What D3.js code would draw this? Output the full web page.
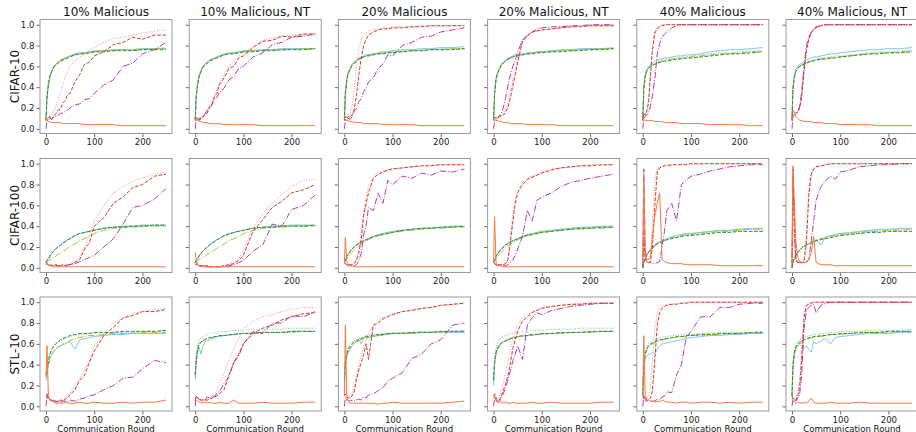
<!DOCTYPE html>
<html>
<head>
<meta charset="utf-8">
<script src="https://cdn.jsdelivr.net/npm/d3@7"></script>
<style>
  body { margin: 0; background: #fff; }
  text { font-family: "DejaVu Sans", sans-serif; }
</style>
</head>
<body>
<svg id="chart" width="916" height="432"></svg>
<script>
var rounds = [0, 2, 5, 8, 12, 16, 20, 25, 30, 35, 40, 45, 50, 60, 70, 80, 90, 100, 120, 140, 160, 180, 200, 225, 249];

var datasets = ["CIFAR-10", "CIFAR-100", "STL-10"];
var settings = ["10% Malicious", "10% Malicious, NT", "20% Malicious", "20% Malicious, NT", "40% Malicious", "40% Malicious, NT"];

// series order in every panel: orange, red, pink, magenta, blue, green, olive, teal
var c10_m10 = [
  [10,8,7,7,6,6,6,6,6,5,5,5,5,5,5,4,4,4,4,4,3,3,3,3,3],
  [10,8,10,12,9,13,14,18,19,25,27,33,34,45,52,62,64,70,74,81,83,88,86,90,90],
  [10,9,11,13,14,17,21,28,35,42,50,55,60,65,69,72,76,78,83,87,88,90,92,94,95],
  [0,8,9,10,9,11,12,13,15,15,17,18,20,23,24,28,29,34,42,47,60,63,72,76,83],
  [10,32,44,51,56,60,62,64,66,67,68,69,70,72,73,73,74,75,75,76,76,76,77,77,77],
  [8,30,42,50,55,59,61,63,65,66,67,68,69,71,72,72,73,74,74,75,75,75,76,76,76],
  [8,29,42,50,55,59,62,64,66,67,68,69,70,71,72,73,73,74,75,75,76,76,76,77,77],
  [10,31,43,51,56,60,62,64,66,67,68,69,70,72,72,73,74,74,75,76,76,76,77,77,78]
];
var c10_m10nt = [
  [10,9,8,7,7,6,6,6,5,5,5,5,5,4,4,4,4,4,4,3,3,3,3,3,3],
  [10,11,9,10,9,11,14,15,21,24,31,34,42,49,58,60,68,70,78,84,85,89,88,91,91],
  [10,10,10,11,11,12,14,18,23,27,32,38,43,52,60,65,70,73,79,85,87,89,90,91,92],
  [0,9,10,8,11,12,14,18,20,23,29,30,35,39,47,50,58,60,69,73,81,83,88,89,91],
  [10,32,44,51,56,60,62,64,66,67,68,69,70,72,73,73,74,75,75,76,76,77,77,77,77],
  [8,30,42,50,55,59,61,63,65,66,67,68,69,71,72,72,73,74,74,75,75,76,76,76,77],
  [8,30,43,50,55,59,62,64,66,67,68,69,70,71,72,73,73,74,75,75,76,76,76,77,77],
  [10,31,43,51,56,60,62,64,66,67,68,69,70,72,72,73,74,74,75,76,76,76,77,77,77]
];
var c10_m20 = [
  [10,9,8,8,7,7,6,6,6,6,5,5,5,5,5,4,4,4,4,4,3,3,3,3,3],
  [10,12,10,12,11,14,18,32,52,68,80,86,90,93,95,96,96,97,97,98,98,99,99,99,99],
  [10,11,12,14,16,22,38,62,78,86,90,92,94,95,96,97,97,98,98,98,99,99,99,99,99],
  [0,8,9,10,9,12,17,19,26,29,36,39,45,49,58,62,71,70,80,83,88,89,93,95,97],
  [10,35,48,54,58,62,64,66,68,69,70,71,71,72,73,74,74,75,76,76,77,77,78,78,79],
  [8,33,47,53,57,61,63,65,67,68,69,70,70,71,72,72,73,73,74,75,75,76,76,76,77],
  [8,34,47,54,58,61,63,65,67,68,69,70,71,71,72,73,73,74,74,75,75,76,76,77,77],
  [10,34,48,54,58,62,64,65,67,68,69,70,71,72,72,73,74,74,75,75,76,76,77,77,77]
];
var c10_m20nt = [
  [10,9,8,8,7,7,6,6,6,5,5,5,5,5,4,4,4,4,4,3,3,3,3,3,3],
  [10,11,10,11,12,12,13,16,21,30,42,52,64,84,89,93,94,95,96,97,98,98,99,99,99],
  [10,11,11,12,12,13,15,20,26,36,48,58,68,86,90,93,94,95,96,97,98,99,99,99,99],
  [0,8,9,10,12,15,20,30,42,52,60,66,74,85,90,93,96,97,98,98,99,99,100,100,100],
  [10,35,48,54,58,62,64,66,68,69,70,71,71,72,73,73,74,74,75,76,76,77,77,77,78],
  [8,33,47,53,57,61,63,65,67,68,69,70,70,71,72,72,73,73,74,74,75,75,76,76,77],
  [8,34,47,54,58,61,63,65,67,68,69,70,71,71,72,73,73,74,74,75,75,76,76,77,77],
  [10,34,48,54,58,62,64,65,67,68,69,70,71,72,72,73,74,74,75,75,76,76,77,77,77]
];
var c10_m40 = [
  [10,9,8,8,8,8,8,7,7,7,7,6,6,6,6,5,5,5,5,4,4,4,4,3,3],
  [10,15,13,16,25,52,75,92,96,98,99,100,100,100,100,100,100,100,100,100,100,100,100,100,100],
  [10,14,14,18,30,58,80,94,97,99,100,100,100,100,100,100,100,100,100,100,100,100,100,100,100],
  [0,10,12,13,15,22,32,48,72,82,88,91,93,97,99,100,100,100,100,100,100,100,100,100,100],
  [10,40,52,57,60,62,63,65,66,67,67,68,68,69,70,70,71,71,72,74,75,76,76,77,78],
  [8,38,50,55,58,60,61,62,63,64,64,65,65,66,67,67,68,68,69,70,71,72,72,73,74],
  [8,38,50,55,58,60,61,62,63,64,65,65,66,67,67,68,68,69,70,71,72,72,73,74,74],
  [10,39,51,56,59,61,62,63,64,65,66,66,67,67,68,69,69,70,71,72,73,73,74,75,75]
];
var c10_m40nt = [
  [10,12,14,12,10,8,8,7,7,7,7,6,6,6,5,5,5,4,4,4,4,3,3,3,3],
  [10,18,16,15,16,20,30,55,75,86,92,95,97,99,100,100,100,100,100,100,100,100,100,100,100],
  [10,16,15,15,17,22,33,58,78,88,93,96,98,100,100,100,100,100,100,100,100,100,100,100,100],
  [0,12,14,14,16,22,35,60,80,88,93,96,98,99,100,100,100,100,100,100,100,100,100,100,100],
  [10,40,52,57,60,62,63,65,66,67,68,69,69,70,71,72,72,73,74,75,76,76,77,77,78],
  [8,38,50,55,58,60,61,62,63,64,65,65,66,67,67,68,68,69,70,71,72,72,73,73,74],
  [8,38,50,55,58,60,61,62,63,64,65,66,66,67,68,68,69,69,70,71,72,73,73,74,75],
  [10,39,51,56,59,61,62,63,64,65,66,66,67,68,68,69,70,70,71,72,73,74,74,75,75]
];

var c100_m10 = [
  [7,5,3,2,2,1,1,1,1,1,1,1,1,1,1,1,1,1,1,1,1,1,1,1,1],
  [6,4,3,3,2,2,3,2,2,3,2,2,3,5,8,18,24,40,48,62,68,77,80,88,90],
  [5,4,3,3,3,2,2,2,2,2,2,3,3,6,11,20,32,45,60,72,78,83,86,90,92],
  [3,4,3,2,3,2,3,2,2,3,2,3,3,4,6,8,10,12,20,28,42,58,60,66,76],
  [5,7,9,11,14,16,18,20,22,24,25,27,28,31,33,34,35,36,38,39,40,40,41,41,41],
  [5,7,9,11,14,16,18,20,22,24,25,27,28,31,33,34,35,36,38,39,39,40,40,41,41],
  [5,6,7,8,9,10,11,13,14,16,17,19,20,23,26,28,30,33,36,38,39,39,40,40,40],
  [5,7,9,12,14,16,18,20,22,24,26,27,28,31,33,34,35,36,38,39,40,40,41,41,41]
];
var c100_m10nt = [
  [15,8,3,2,1,1,1,1,1,1,1,1,1,1,1,1,1,1,1,1,1,1,1,1,1],
  [5,4,3,2,2,2,2,2,1,1,1,1,1,2,3,4,7,12,35,46,58,64,72,75,80],
  [5,4,3,2,2,2,2,2,1,1,1,1,1,2,3,5,9,16,38,52,62,70,78,84,85],
  [3,3,3,2,2,2,2,1,1,1,1,1,1,1,2,3,5,7,16,22,42,40,56,60,70],
  [5,7,9,11,14,16,18,20,22,24,25,27,28,31,33,34,35,36,38,39,40,40,41,41,41],
  [5,7,9,11,14,16,18,20,22,24,25,27,28,31,32,34,35,36,38,39,39,40,40,40,41],
  [5,6,7,8,9,10,11,13,14,16,17,19,20,23,26,28,30,33,36,38,39,39,40,40,40],
  [5,7,9,12,14,16,18,20,22,24,26,27,28,31,33,34,35,36,38,39,40,40,41,41,41]
];
var c100_m20 = [
  [5,29,6,3,2,2,1,1,1,1,1,1,1,1,1,1,1,1,1,1,1,1,1,1,1],
  [5,4,3,3,3,3,4,7,14,28,50,62,72,86,90,92,94,95,96,97,98,98,99,99,99],
  [5,4,3,3,3,3,5,9,18,35,55,68,78,88,91,93,94,95,96,97,98,99,99,99,99],
  [5,4,3,2,2,2,2,3,7,14,32,40,58,55,72,62,84,80,88,86,91,89,93,92,95],
  [5,8,11,13,16,18,20,22,24,25,26,27,28,30,32,33,34,35,36,37,38,38,39,40,40],
  [5,8,11,13,16,18,20,22,23,25,26,27,28,30,31,32,33,34,36,37,38,38,39,39,40],
  [5,7,9,11,13,15,17,19,21,23,24,26,27,29,31,32,33,34,35,36,37,38,38,39,39],
  [5,8,11,13,16,18,20,22,24,25,26,27,28,30,32,33,34,35,36,37,38,39,39,40,40]
];
var c100_m20nt = [
  [5,49,5,3,2,2,1,1,1,1,1,1,1,1,1,1,1,1,1,1,1,1,1,1,1],
  [5,4,3,3,3,3,3,4,8,25,45,62,72,80,85,87,89,91,94,96,97,98,98,99,99],
  [5,4,3,3,3,3,3,5,10,30,52,66,75,82,86,88,90,92,95,96,97,98,99,99,99],
  [5,4,3,2,2,2,2,2,3,5,8,12,18,30,55,45,65,68,72,78,82,84,86,88,90],
  [5,8,11,13,16,18,20,22,24,25,26,27,28,30,32,33,34,35,36,37,38,39,39,40,40],
  [5,8,11,13,16,18,20,22,23,25,26,27,28,30,31,32,33,34,35,36,37,38,38,39,39],
  [5,7,9,11,13,15,17,19,21,23,24,26,27,29,31,32,33,34,35,36,37,37,38,38,39],
  [5,8,11,13,16,18,20,22,24,25,26,27,28,30,32,33,34,35,36,37,38,38,39,39,40]
];
var c100_m40 = [
  [5,90,10,8,8,10,30,50,62,72,8,6,5,4,4,4,3,3,3,3,2,2,2,2,2],
  [5,30,8,6,5,6,20,60,92,96,97,98,98,99,99,99,99,100,100,100,100,100,100,100,100],
  [5,50,12,8,8,15,45,85,95,97,98,98,99,99,99,100,100,100,100,100,100,100,100,100,100],
  [0,95,20,6,5,5,4,4,5,6,20,35,55,62,45,80,84,88,90,93,95,97,98,99,99],
  [0,5,9,12,15,18,20,22,24,25,26,27,28,30,31,32,33,33,34,35,36,36,37,38,38],
  [0,5,9,12,15,17,19,21,23,24,25,26,27,28,29,30,31,31,32,33,34,34,35,35,35],
  [0,5,9,12,15,17,19,21,23,24,25,26,27,29,30,31,32,32,33,34,35,35,36,37,37],
  [0,5,9,12,15,18,20,22,24,25,26,27,28,29,30,31,32,33,34,35,36,36,37,37,37]
];
var c100_m40nt = [
  [5,98,60,25,10,6,5,5,5,8,15,30,5,3,3,3,2,2,2,2,2,2,2,2,2],
  [5,85,30,8,5,5,5,6,25,70,90,95,97,98,99,100,100,100,100,100,100,100,100,100,100],
  [5,90,40,10,6,6,6,8,35,78,92,96,97,98,99,100,100,100,100,100,100,100,100,100,100],
  [0,95,50,10,5,5,5,5,6,8,26,45,65,78,84,88,85,92,94,97,98,99,99,100,100],
  [0,5,9,12,15,17,19,21,22,23,24,25,27,22,30,31,32,33,34,35,36,37,37,38,38],
  [0,5,9,12,15,17,19,21,22,23,24,25,26,27,28,29,30,31,32,33,34,34,35,35,35],
  [0,5,9,12,15,17,19,21,22,23,24,25,26,28,29,30,31,32,33,34,35,35,36,36,37],
  [0,5,9,12,15,17,19,21,22,23,24,25,27,28,29,30,31,32,33,34,35,36,36,37,37]
];

var stl_m10 = [
  [28,58,10,6,5,4,3,3,3,3,4,3,3,3,4,3,3,4,3,3,4,3,4,4,6],
  [10,9,7,6,6,5,5,4,6,5,7,8,11,16,25,30,42,53,68,76,85,87,91,91,93],
  [10,9,7,6,6,5,5,5,6,7,8,10,13,19,27,35,44,58,70,80,85,89,91,93,94],
  [0,12,8,7,5,6,4,5,4,5,5,4,6,5,7,8,10,11,16,20,27,28,36,44,42],
  [25,30,40,45,50,53,55,57,58,59,60,61,62,55,64,65,66,67,68,69,69,70,70,70,70],
  [30,33,45,50,55,58,60,62,64,65,66,67,68,69,70,70,70,71,71,71,72,72,72,72,73],
  [30,32,40,46,50,53,55,57,58,60,61,62,63,65,66,67,68,68,69,70,70,70,71,71,71],
  [30,33,44,50,55,58,60,62,63,64,65,66,67,68,69,69,70,70,71,71,71,71,72,72,72]
];
var stl_m10nt = [
  [5,6,5,4,4,3,4,3,4,3,3,3,4,3,3,6,3,3,3,4,3,3,3,4,4],
  [5,10,8,7,6,6,6,6,7,8,9,10,12,16,30,42,50,60,70,75,78,83,86,89,90],
  [5,10,8,7,6,6,6,6,8,10,12,16,22,32,45,55,65,74,82,86,88,91,93,95,95],
  [0,10,8,7,6,7,6,9,8,10,9,13,14,22,28,42,48,60,72,70,80,80,87,86,91],
  [25,40,52,57,50,58,62,63,64,65,66,67,67,68,68,69,69,70,70,71,71,71,72,72,72],
  [30,45,55,60,62,63,64,65,66,66,67,67,68,68,69,69,70,70,70,71,71,71,72,72,72],
  [30,44,54,59,61,63,64,65,66,66,67,67,68,68,69,69,70,70,70,71,71,71,71,72,72],
  [30,48,60,64,66,67,68,69,70,70,71,71,72,72,72,73,73,73,74,74,74,74,75,75,75]
];
var stl_m20 = [
  [10,78,6,4,3,3,3,3,3,3,3,3,3,3,2,3,3,4,3,3,3,3,3,4,5],
  [10,12,9,8,8,10,14,25,35,42,50,60,45,78,80,84,86,88,91,92,94,95,97,98,99],
  [10,10,9,9,10,12,18,30,40,50,58,63,70,78,82,85,87,89,91,93,94,95,97,98,99],
  [0,8,7,6,5,6,5,6,7,6,9,8,11,12,15,18,24,27,32,46,50,60,64,78,80],
  [20,40,48,52,55,58,60,62,64,60,65,66,66,67,68,69,69,70,70,70,71,71,71,71,71],
  [25,42,50,55,58,60,62,63,64,65,66,67,67,68,69,69,70,70,70,71,71,71,72,72,72],
  [25,40,48,53,56,58,60,62,63,64,65,66,66,67,68,68,69,70,70,70,71,71,71,72,72],
  [25,43,52,57,60,62,63,64,65,66,67,68,68,69,69,70,70,71,71,71,72,72,72,72,73]
];
var stl_m20nt = [
  [8,10,5,4,4,4,3,4,3,3,4,3,3,3,3,4,3,3,4,3,3,3,3,4,4],
  [10,12,8,6,6,10,15,22,30,42,56,64,72,82,86,90,92,94,96,97,98,98,99,99,99],
  [10,12,8,8,10,14,22,32,45,56,65,72,78,85,88,91,93,95,96,97,98,99,99,99,99],
  [0,8,6,5,5,8,12,18,26,34,44,50,58,45,78,85,90,88,92,94,96,97,98,99,99],
  [20,40,50,55,58,60,62,63,64,65,66,66,67,67,68,68,69,69,70,70,71,71,71,72,72],
  [25,42,52,56,59,61,62,63,64,65,66,66,67,68,68,69,69,70,70,71,71,71,72,72,72],
  [25,41,51,55,58,60,62,63,64,65,65,66,67,67,68,69,69,70,70,70,71,71,71,72,72],
  [25,45,56,61,64,66,67,68,69,70,70,71,71,72,72,73,73,73,74,74,74,75,75,75,75]
];
var stl_m40 = [
  [10,68,10,8,6,5,5,4,5,4,6,5,4,4,3,4,4,3,4,4,3,4,3,4,4],
  [10,8,5,5,6,8,15,45,78,90,94,96,97,98,98,99,99,100,100,100,100,100,100,100,100],
  [10,8,6,8,10,20,45,75,90,94,96,97,98,98,99,99,100,100,100,100,100,100,100,100,100],
  [0,10,8,6,5,6,5,5,7,6,9,10,14,13,30,40,66,72,86,86,95,95,98,99,99],
  [10,35,45,48,50,50,52,50,55,58,60,60,61,62,63,64,65,66,67,68,68,69,69,70,70],
  [10,40,50,55,58,60,61,62,63,64,64,65,65,66,67,67,68,68,69,69,70,70,70,71,71],
  [10,38,49,54,57,59,60,61,62,63,64,64,65,66,66,67,67,68,68,69,69,70,70,70,71],
  [10,42,53,57,60,62,63,64,65,66,66,67,67,68,68,69,69,69,70,70,71,71,71,71,72]
];
var stl_m40nt = [
  [8,5,4,3,4,3,3,4,3,5,8,4,3,3,3,4,3,3,3,4,3,3,3,3,3],
  [10,8,6,6,10,20,45,85,97,98,99,100,100,100,100,100,100,100,100,100,100,100,100,100,100],
  [10,8,7,8,12,25,55,90,98,99,100,100,100,100,100,100,100,100,100,100,100,100,100,100,100],
  [0,8,6,5,8,12,30,75,92,95,97,98,90,97,99,100,100,100,100,100,100,100,100,100,100],
  [10,35,50,55,58,60,60,56,58,55,52,62,60,63,65,60,66,67,68,69,70,70,70,71,71],
  [10,40,52,57,60,62,63,64,65,66,66,67,67,68,68,69,69,70,70,71,71,71,72,72,72],
  [10,40,51,56,59,61,62,63,64,65,66,66,67,67,68,69,69,69,70,70,71,71,71,72,72],
  [10,42,54,59,62,64,65,66,67,68,68,69,69,70,70,71,71,72,72,72,73,73,73,73,74]
];

var panels = [
  [c10_m10, c10_m10nt, c10_m20, c10_m20nt, c10_m40, c10_m40nt],
  [c100_m10, c100_m10nt, c100_m20, c100_m20nt, c100_m40, c100_m40nt],
  [stl_m10, stl_m10nt, stl_m20, stl_m20nt, stl_m40, stl_m40nt]
];

var colors = ["#f47a3c", "#d93b1f", "#ef8f8f", "#b13db0", "#80c8ec", "#2e8b3a", "#b8ba2a", "#5fc4a8"];
var dashes = [null, "3.7,1.6", "1,1.65", "6.4,1.6,1,1.6", null, "3.7,1.6", "6.4,1.6,1,1.6", "1,1.65"];
var drawOrder = [4, 7, 6, 5, 2, 3, 1, 0];

var svg = d3.select("#chart");

var colLeft = 40, colStep = 149.2, pw = 132;
var rowTop = [19.5, 158.5, 297], ph = 114;

var x = d3.scaleLinear().domain([-12.45, 261.45]).range([0, pw]);
var y = d3.scaleLinear().domain([-0.045, 1.05]).range([ph, 0]);

var line = d3.line()
  .x(function(d, i) { return x(rounds[i]); })
  .y(function(d) { return y(d / 100); });

for (var r = 0; r < 3; r++) {
  for (var c = 0; c < 6; c++) {
    var g = svg.append("g")
      .attr("transform", "translate(" + (colLeft + c * colStep) + "," + rowTop[r] + ")");

    var series = panels[r][c];
    drawOrder.forEach(function(k) {
      g.append("path")
        .attr("d", line(series[k]))
        .attr("fill", "none")
        .attr("stroke", colors[k])
        .attr("stroke-width", 1)
        .attr("stroke-dasharray", dashes[k]);
    });

    // y axis, labels only in first column
    var ya = g.append("g").call(d3.axisLeft(y)
      .tickValues([0, 0.2, 0.4, 0.6, 0.8, 1.0])
      .tickSize(3.5).tickPadding(2)
      .tickFormat(c == 0 ? d3.format(".1f") : ""));
    var xa = g.append("g").attr("transform", "translate(0," + ph + ")")
      .call(d3.axisBottom(x).tickValues([0, 100, 200]).tickSize(3.5).tickPadding(2));

    [ya, xa].forEach(function(a) {
      a.select(".domain").remove();
      a.selectAll(".tick line").attr("stroke", "#444").attr("stroke-width", 0.8);
      a.selectAll(".tick text").attr("fill", "#222").style("font-size", "8.6px")
        .style("font-family", "'DejaVu Sans', sans-serif");
    });

    g.append("rect")
      .attr("width", pw).attr("height", ph)
      .attr("fill", "none").attr("stroke", "#999").attr("stroke-width", 1);

    if (r == 0) {
      g.append("text").attr("x", pw / 2).attr("y", -4)
        .attr("text-anchor", "middle").style("font-size", "12px").attr("fill", "#111")
        .text(settings[c]);
    }
    if (c == 0) {
      g.append("text")
        .attr("transform", "translate(-21," + (ph / 2) + ") rotate(-90)")
        .attr("text-anchor", "middle").style("font-size", "12px").attr("fill", "#111")
        .text(datasets[r]);
    }
    if (r == 2) {
      g.append("text").attr("x", pw / 2).attr("y", ph + 20.5)
        .attr("text-anchor", "middle").style("font-size", "8.6px").attr("fill", "#111")
        .text("Communication Round");
    }
  }
}
</script>
</body>
</html>
